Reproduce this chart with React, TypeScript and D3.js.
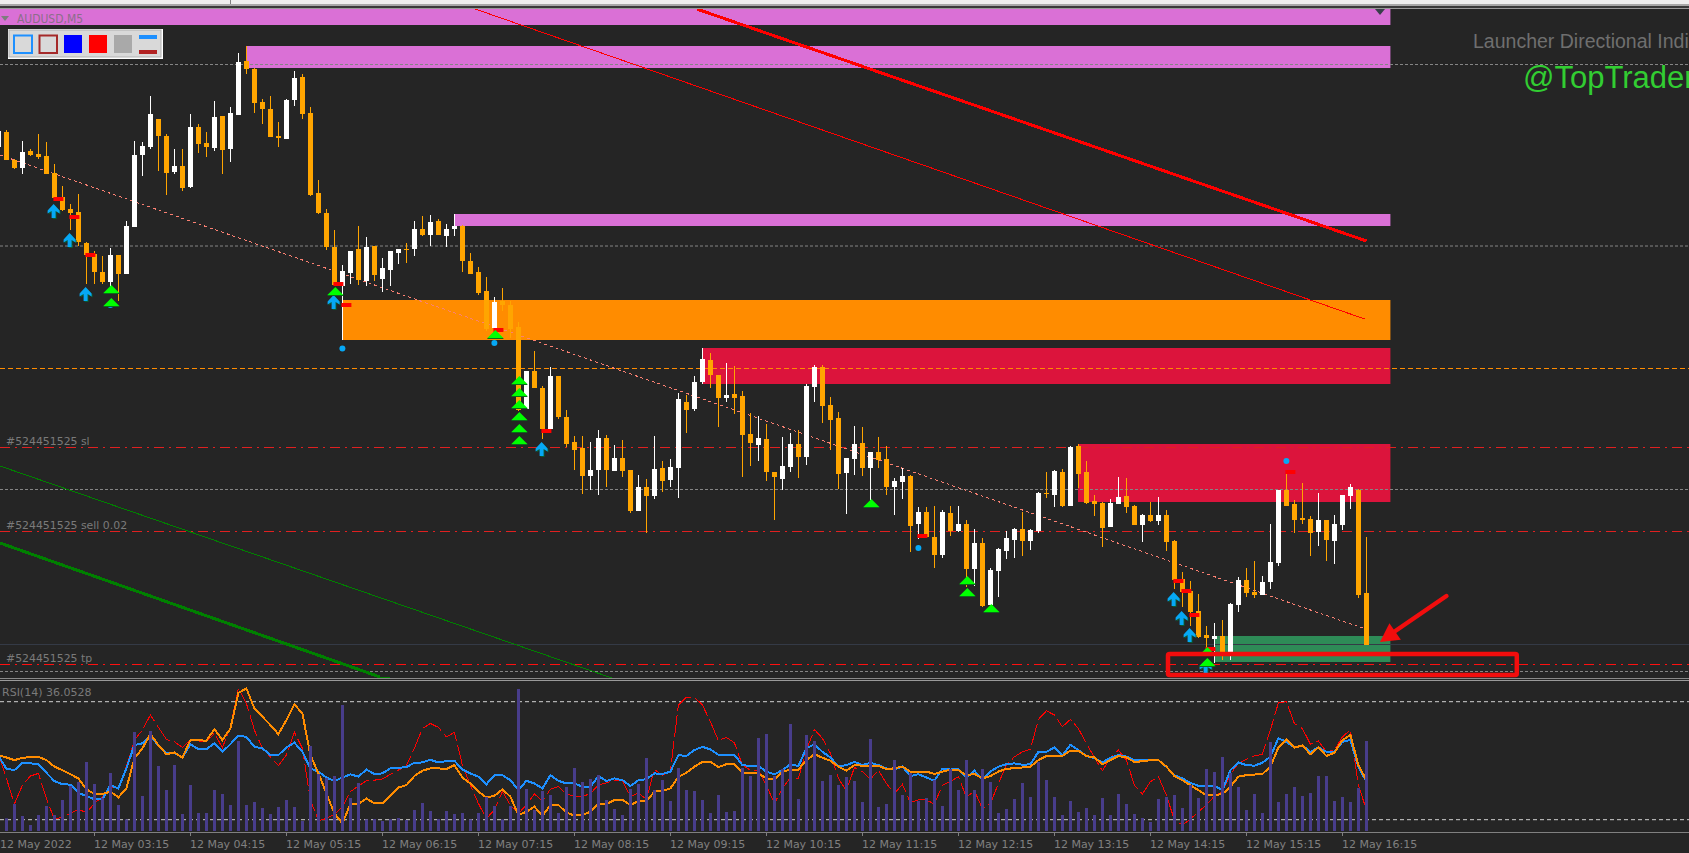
import * as d3 from "d3";

const W = 1689;
const H = 853;

// prices are points above 0.69000
const opens = [
  853,868,840,832,849,846,844,827,803,791,788,757,746,728,718,745,726,773,845,853,
  881,864,828,834,813,873,857,852,884,851,885,939,931,898,891,864,861,900,923,887,
  807,787,753,714,727,751,719,754,721,730,747,751,751,771,765,779,764,771,774,739,
  728,709,672,699,695,673,591,629,612,571,624,583,558,552,524,530,562,529,542,530,
  489,513,504,532,520,532,598,591,618,640,625,602,606,604,566,555,561,528,521,533,
  556,543,613,633,595,582,527,541,557,532,548,541,513,518,524,476,488,463,445,487,
  469,476,431,457,395,429,449,460,471,459,469,507,505,528,494,554,528,499,497,473,
  496,504,494,475,485,479,485,459,421,409,389,365,361,364,348,395,420,408,405,418,
  437,510,496,482,481,468,480,459,475,504,510,407,
];
const closes = [
  869,840,832,848,845,843,826,802,790,787,758,745,728,718,745,726,774,845,854,886,
  864,827,834,812,873,856,853,883,850,887,938,931,897,891,863,862,900,922,886,805,
  787,753,715,729,749,720,753,725,732,749,751,750,771,765,778,765,771,774,739,726,
  707,671,698,695,671,590,629,612,571,624,583,556,550,524,530,562,530,542,529,489,
  513,504,531,519,533,601,590,618,641,625,602,605,602,565,557,562,528,523,534,556,
  543,614,633,594,580,526,542,556,532,548,540,513,519,524,474,488,463,445,488,469,
  476,431,457,394,430,451,462,471,459,470,507,506,529,494,553,526,497,496,472,497,
  503,493,475,485,479,485,458,420,408,388,363,362,364,348,396,420,407,405,418,438,
  510,494,480,480,467,480,460,476,505,513,405,355,
];
const highs = [
  869,870,841,859,851,866,858,836,814,796,806,758,749,744,752,745,779,859,858,904,
  881,866,851,851,886,876,868,899,884,893,947,954,932,901,904,878,901,929,926,893,
  820,791,770,735,749,774,763,754,742,749,751,757,779,784,785,781,776,786,775,747,
  733,723,703,712,699,678,629,649,614,633,624,590,564,564,558,570,565,555,560,530,
  525,521,564,539,541,607,605,624,652,647,625,637,634,609,587,584,576,528,563,567,
  570,616,635,635,603,588,542,574,573,548,563,554,522,532,525,493,493,494,490,494,
  494,480,471,462,432,452,469,472,488,471,508,528,530,531,554,556,539,505,498,501,
  523,522,495,486,498,503,490,460,428,419,406,374,377,380,397,423,432,439,424,476,
  510,530,500,517,484,507,480,485,505,516,511,463,
];
const lows = [
  853,840,831,826,844,841,826,801,789,770,754,716,716,716,713,699,726,773,824,851,
  829,805,826,809,812,847,843,849,826,838,885,926,887,876,863,853,861,894,881,804,
  786,750,715,660,716,715,714,719,708,714,736,737,744,764,754,765,753,764,728,726,
  705,669,670,689,662,589,591,612,561,571,581,553,530,506,510,505,513,529,523,487,
  489,467,501,508,513,502,567,589,616,612,573,598,586,523,534,539,519,480,510,528,
  522,535,598,577,550,511,486,525,524,500,532,505,485,501,448,461,463,432,442,464,
  468,413,414,393,395,403,441,442,444,450,467,502,493,493,494,512,496,484,453,473,
  496,487,475,458,478,475,449,411,393,374,362,350,337,340,340,388,403,402,405,411,
  434,494,467,476,444,454,439,436,470,491,402,355,
];
const volumes = [
  38,38,81,45,18,48,75,48,93,135,147,207,141,99,174,78,35,297,105,300,
  195,123,198,51,138,54,54,123,111,78,270,78,87,69,51,72,93,72,30,255,
  171,159,165,378,99,144,35,36,30,35,39,33,63,84,60,36,60,51,54,35,
  54,102,75,35,75,426,126,63,120,108,54,132,189,147,156,168,93,66,48,126,
  141,219,123,153,90,189,123,120,93,54,108,57,60,189,165,279,291,165,186,321,
  96,288,270,150,168,138,162,150,87,276,72,81,213,108,174,90,99,153,75,186,
  123,213,123,186,147,54,66,96,144,102,207,153,102,48,90,57,69,48,99,48,
  111,81,51,39,27,96,102,108,69,138,99,186,177,222,174,132,63,111,54,267,
  87,111,132,105,114,165,165,90,102,87,129,270,
];
const rsiBlue = [
  51.6,47.3,46.8,49.3,49.1,48.8,45.9,43.1,42.0,41.9,39.1,38.0,36.9,36.9,41.7,40.6,47.4,55.3,55.9,58.4,
  55.1,52.5,52.7,51.1,55.6,53.9,53.9,55.9,53.0,55.6,58.5,58.1,54.7,54.2,51.9,51.9,54.5,56.1,53.0,47.4,
  46.3,44.3,43.1,44.3,45.4,44.6,47.0,45.5,45.7,47.4,47.6,47.8,49.3,49.4,50.3,49.4,49.9,50.0,47.0,45.7,
  44.6,42.0,45.1,45.1,43.4,40.0,43.2,42.3,40.6,45.1,43.2,42.3,42.3,41.2,41.2,44.8,43.1,44.0,43.4,41.4,
  43.4,43.7,45.7,45.5,46.3,51.9,51.6,53.6,54.7,53.8,52.0,52.0,52.0,48.5,48.2,48.2,46.3,45.4,46.8,48.8,
  48.2,54.2,55.6,53.0,51.1,48.0,48.5,49.6,48.5,49.3,48.5,47.4,47.0,48.0,44.8,45.4,44.3,43.2,47.3,47.0,
  47.2,44.2,46.6,43.7,46.3,48.0,48.8,49.1,48.6,48.8,53.0,53.0,54.5,51.7,55.4,53.6,51.6,50.9,49.4,51.0,
  51.9,51.4,50.2,50.4,50.2,50.2,47.9,45.1,44.0,42.5,41.5,41.5,41.5,40.0,46.8,49.4,48.5,48.3,49.3,51.4,
  57.6,56.4,54.5,55.2,53.0,54.5,53.0,53.0,56.4,57.0,47.9,42.9,
];
const rsiOrange = [
  51.9,51.1,50.2,51.0,51.2,51.3,50.2,48.0,46.8,45.4,44.0,40.3,38.7,38.7,39.5,37.6,40.6,50.8,54.2,59.0,
  55.3,52.2,52.8,51.0,57.0,56.9,56.8,60.7,57.0,60.9,73.0,74.5,67.7,64.9,62.1,59.0,63.8,69.1,66.0,51.9,
  45.7,38.9,32.1,28.8,35.3,35.3,37.2,35.5,35.5,38.3,40.9,41.7,44.8,46.6,47.4,47.4,47.2,48.5,44.3,42.3,
  39.5,37.5,38.1,40.3,37.8,31.6,32.7,34.4,31.3,35.0,35.0,32.4,31.4,31.6,32.7,35.3,35.3,36.7,36.7,35.0,
  36.3,36.3,39.5,39.8,40.6,44.6,45.9,48.0,49.6,49.6,47.8,48.8,48.8,45.9,45.7,45.7,44.0,43.7,46.3,47.0,
  47.0,50.2,52.2,51.0,50.0,48.0,46.6,48.5,48.3,48.2,48.2,47.2,47.4,48.0,46.3,46.3,46.3,45.5,46.3,47.0,
  46.8,45.1,45.5,44.0,44.8,46.3,47.3,47.4,47.7,48.0,50.2,51.6,51.7,51.6,53.4,53.4,51.6,51.1,48.8,50.2,
  51.6,51.1,49.6,49.8,50.2,50.2,48.0,44.8,43.4,41.7,40.0,38.3,38.3,38.7,41.2,44.6,45.1,45.3,45.5,48.0,
  54.5,57.2,54.4,55.2,52.2,54.5,51.6,52.7,57.0,58.7,48.5,43.4,
];
const rsiRed = [
  52.5,44.0,35.3,41.7,44.8,45.7,37.2,30.1,31.0,32.1,33.5,32.4,35.5,37.8,40.9,40.9,48.0,57.0,60.4,65.5,
  61.3,57.2,56.4,54.5,57.0,56.7,56.4,59.3,54.4,61.5,74.5,69.4,60.4,54.2,51.3,48.3,51.9,59.6,54.2,36.7,
  29.7,30.4,31.8,34.4,39.5,41.4,43.2,43.4,43.8,45.4,46.8,48.3,54.2,60.9,62.6,61.3,58.1,59.6,48.5,41.7,
  35.5,30.4,33.3,39.5,35.0,32.1,35.0,38.7,36.4,40.3,41.2,38.7,38.0,37.8,38.9,41.7,42.5,43.4,43.2,37.8,
  39.1,36.9,47.0,45.1,46.5,68.9,71.5,71.5,68.9,63.2,56.8,57.9,56.1,48.5,46.8,46.8,41.7,35.5,40.6,44.3,
  44.0,53.6,60.6,57.6,52.5,44.0,39.8,47.7,46.3,43.7,46.8,42.3,38.9,42.0,35.8,36.7,36.7,35.3,41.7,42.9,
  44.6,37.6,39.8,33.8,35.5,42.3,48.5,51.3,53.0,53.9,64.0,66.9,65.5,61.5,64.0,60.9,55.9,51.1,46.6,51.1,
  53.6,50.2,41.7,38.7,42.9,44.6,38.3,29.9,28.2,30.2,32.7,35.0,38.0,39.5,45.4,49.1,50.5,51.6,52.2,60.4,
  69.6,70.0,62.6,60.9,55.6,56.7,53.0,53.6,58.1,60.4,41.7,33.3,
];

const timeIdx = [0, 12, 24, 36, 48, 60, 72, 84, 96, 108, 120, 132, 144, 156, 168];
const timeLabels = [
  "12 May 2022", "12 May 03:15", "12 May 04:15", "12 May 05:15", "12 May 06:15",
  "12 May 07:15", "12 May 08:15", "12 May 09:15", "12 May 10:15", "12 May 11:15",
  "12 May 12:15", "12 May 13:15", "12 May 14:15", "12 May 15:15", "12 May 16:15",
];

// supply / demand boxes: start bar, top, bottom, colour
const zoneStart = [-1, 31, 57, 43, 88, 135, 152];
const zoneTop = [991, 954, 786, 700, 652, 556, 364];
const zoneBottom = [975, 932, 774, 660, 616, 498, 338];
const zoneFill = ["#DA70D6", "#DA70D6", "#DA70D6", "#FF8C00", "#DC143C", "#DC143C", "#2E8B57"];
const zoneEnd = 174;

const greyLevels = [935.5, 754, 510.5, 328.5];
const orangeLevel = 631.5;
const orderLevels = [552.5, 468.5];
const orderLabels = ["#524451525 sl", "#524451525 sell 0.02", "#524451525 tp"];
const tpLevel = 335.5;
const faintLevel = 355.5;

const arrowIdx = [7, 9, 11, 42, 68, 147, 148, 149, 151];
const arrowPts = [796, 767, 713, 705, 558, 408, 389, 372, 340];
const triIdx = [14, 14, 42, 62, 65, 65, 65, 65, 65, 65, 109, 121, 121, 124, 151, 151];
const triPts = [715, 702, 713, 670, 624, 612, 600, 588, 576, 564, 501, 424, 412, 396, 353, 342];
const dashIdx = [7, 9, 11, 42, 43, 62, 68, 115, 147, 148, 149, 151, 161];
const dashPts = [801, 783, 745, 716, 695, 670, 569, 464, 419, 409, 385, 351, 528];
const dotIdx = [14, 43, 62, 115, 161];
const dotPts = [695, 651.5, 657, 452, 539];

const x = d3.scaleLinear().domain([0, 171]).range([-1.6, 1366.4]);
const y = d3.scaleLinear().domain([1000, 0]).range([0, 1000]);
const yRsi = d3.scaleLinear().domain([30, 70]).range([819.7, 701.7]);
const yVol = d3.scaleLinear().domain([0, 426]).range([831, 689]);

const rsiLine = d3
  .line<number>()
  .x((_, i) => x(i))
  .y((d) => yRsi(d));

const BG = "#252525";
const UP = "#FFFFFF";
const DOWN = "#FFA500";
const MONO = "'DejaVu Sans', Tahoma, sans-serif";

function trend(i0: number, p0: number, i1: number, p1: number, stroke: string, sw: number, dash?: string) {
  return (
    <line
      x1={x(i0)}
      y1={y(p0)}
      x2={x(i1)}
      y2={y(p1)}
      stroke={stroke}
      strokeWidth={sw}
      strokeDasharray={dash}
      shapeRendering="crispEdges"
    />
  );
}

export default function App() {
  const tipX = x(172.7);
  const tipY = y(358);
  const tailX = x(181);
  const tailY = y(404);
  const ang = Math.atan2(tailY - tipY, tailX - tipX);
  const head = (len: number, off: number) =>
    `${tipX + Math.cos(ang + off) * len},${tipY + Math.sin(ang + off) * len}`;

  return (
    <div style={{ width: W, height: H, overflow: "hidden", position: "fixed", left: 0, top: 0 }}>
      <style>{"body{margin:0;background:#252525}"}</style>
      <svg width={W} height={H} viewBox={`0 0 ${W} ${H}`} style={{ display: "block" }}>
        <rect width={W} height={H} fill={BG} />

        {/* window strip */}
        <rect width={W} height={4} fill="#efefef" />
        <rect y={4} width={W} height={2} fill="#a8a8a8" />
        <rect y={6} width={W} height={2} fill="#3a3a3a" />
        <rect y={8} width={W} height={1} fill="#9a9a9a" />
        <rect x={230} width={1} height={4} fill="#808080" />

        <defs>
          <clipPath id="main">
            <rect x={0} y={9} width={W} height={669} />
          </clipPath>
        </defs>

        <g clipPath="url(#main)">
          {zoneStart.map((s, i) => (
            <rect
              key={i}
              x={Math.max(0, Math.floor(x(s)))}
              y={y(zoneTop[i])}
              width={x(zoneEnd) - Math.max(0, Math.floor(x(s)))}
              height={y(zoneBottom[i]) - y(zoneTop[i])}
              fill={zoneFill[i]}
            />
          ))}

          {greyLevels.map((p) => (
            <line key={p} x1={0} x2={W} y1={y(p)} y2={y(p)} stroke="#858585" strokeDasharray="3 2" />
          ))}
          <line x1={0} x2={W} y1={y(orangeLevel)} y2={y(orangeLevel)} stroke="#FF8C00" strokeDasharray="5 3" />
          {orderLevels.map((p) => (
            <line key={p} x1={0} x2={W} y1={y(p)} y2={y(p)} stroke="#e02020" strokeDasharray="10 5 2 5" />
          ))}
          <line x1={0} x2={W} y1={y(faintLevel)} y2={y(faintLevel)} stroke="#343a46" />
          <line x1={0} x2={W} y1={y(tpLevel)} y2={y(tpLevel)} stroke="#ff1010" strokeDasharray="10 5 2 5" />

          {trend(87.3, 991, 171, 759, "#ff0000", 3)}
          {trend(59.6, 991, 170.8, 681, "#ff0000", 1)}
          {trend(0.2, 845, 170.5, 372, "#FA8072", 1, "3 3")}
          {trend(0.2, 534, 76.7, 322, "#008000", 1)}
          {trend(0.2, 457, 47.7, 323, "#008000", 3)}
          {trend(47.7, 323, 49, 323, "#008000", 1)}

          {opens.map((o, i) => {
            const c = closes[i];
            const up = c >= o;
            const cx = Math.floor(x(i));
            const top = y(Math.max(o, c));
            const bot = y(Math.min(o, c));
            const col = up ? UP : DOWN;
            return (
              <g key={i} fill={col}>
                <rect x={cx} y={y(highs[i])} width={1} height={y(lows[i]) - y(highs[i])} />
                <rect x={cx - 2} y={top} width={5} height={Math.max(1, bot - top)} />
              </g>
            );
          })}

          {dotIdx.map((d, i) => (
            <circle key={i} cx={x(d)} cy={y(dotPts[i])} r={3} fill="#06a8f5" />
          ))}
          {dashIdx.map((d, i) => (
            <rect key={i} x={x(d) - 1} y={y(dashPts[i]) - 2} width={10} height={4} fill="#ff0000" />
          ))}
          {arrowIdx.map((d, i) => {
            const ax = x(d) - 0.8;
            const ay = y(arrowPts[i]);
            const p = `M${ax},${ay}L${ax + 6},${ay + 6.5}L${ax + 6},${ay + 9.5}L${ax + 2},${ay + 7}L${ax + 2},${ay + 14}L${ax - 2},${ay + 14}L${ax - 2},${ay + 7}L${ax - 6},${ay + 9.5}L${ax - 6},${ay + 6.5}Z`;
            return (
              <g key={i}>
                <path d={p} fill="#0a5a30" transform="translate(1,1)" />
                <path d={p} fill="#06a8f5" />
              </g>
            );
          })}
          {triIdx.map((d, i) => {
            const tx = x(d) + 1;
            const ty = y(triPts[i]);
            return (
              <g key={i}>
                <polygon points={`${tx},${ty} ${tx + 8},${ty + 8} ${tx - 8},${ty + 8}`} fill="#00ff00" />
                <line x1={tx - 8} x2={tx + 8} y1={ty + 8.5} y2={ty + 8.5} stroke="#0b6a1a" />
              </g>
            );
          })}
        </g>

        {/* annotation box and arrow */}
        <rect
          x={x(146.2)}
          y={y(346)}
          width={x(189.8) - x(146.2)}
          height={y(325) - y(346)}
          fill="none"
          stroke="#f20d0d"
          strokeWidth={4.5}
          rx={1.5}
        />
        <line x1={tailX} y1={tailY} x2={tipX + 8} y2={tipY - 6} stroke="#f20d0d" strokeWidth={4.5} strokeLinecap="round" />
        <polygon points={`${tipX},${tipY} ${head(21, 0.5)} ${head(21, -0.5)}`} fill="#f20d0d" />

        {/* chart labels */}
        <polygon points="1,16 9,16 5,21" fill="#7d7d7d" />
        <polygon points="1375,9 1385,9 1380,15" fill="#3a3f4a" />
        <text x={17} y={23} fontFamily={MONO} fontSize={11.5} fill="#8c6e8a" textLength={66} lengthAdjust="spacingAndGlyphs">
          AUDUSD,M5
        </text>
        {orderLabels.map((t, i) => (
          <text key={t} x={6} y={y([555, 471, 338.3][i])} fontFamily={MONO} fontSize={10.9} fill="#7a7a7a">
            {t}
          </text>
        ))}
        <text x={1473} y={48} fontFamily="'Liberation Sans', Arial, sans-serif" fontSize={19.5} fill="#6f6f6f">
          Launcher Directional Indicator
        </text>
        <text x={1523} y={88} fontFamily="'Liberation Sans', Arial, sans-serif" fontSize={31} fill="#32CD32">
          @TopTrader
        </text>

        {/* toolbar */}
        <rect x={8} y={29} width={155} height={30} fill="#ffffff" />
        <rect x={9} y={30} width={152} height={27} fill="#d9d9d9" stroke="#b0b0b0" />
        <rect x={14} y={35.5} width={18} height={17.5} fill="#d9d9d9" stroke="#1E90FF" strokeWidth={2} />
        <rect x={39.5} y={35.5} width={17.5} height={17.5} fill="#d9d9d9" stroke="#A52A2A" strokeWidth={2} />
        <rect x={64} y={35} width={18} height={18} fill="#0000ff" />
        <rect x={89} y={35} width={18} height={18} fill="#ff0000" />
        <rect x={114} y={35} width={18} height={18} fill="#a9a9a9" />
        <rect x={139} y={35} width={18} height={4} fill="#1E90FF" />
        <rect x={139} y={50} width={18} height={4} fill="#B22222" />

        {/* pane split */}
        <rect y={678} width={W} height={1} fill="#8a8a8a" />
        <rect y={680} width={W} height={1} fill="#9a9a9a" />

        {/* RSI pane */}
        <text x={2} y={696} fontFamily={MONO} fontSize={11} fill="#7a7a7a">
          RSI(14) 36.0528
        </text>
        {[70, 30].map((v) => (
          <line key={v} x1={0} x2={W} y1={yRsi(v)} y2={yRsi(v)} stroke="#d0d0d0" strokeDasharray="4 3" />
        ))}
        <path d={rsiLine(rsiRed) ?? ""} fill="none" stroke="#ff0000" strokeWidth={1} strokeDasharray="22 4" shapeRendering="crispEdges" />
        <path d={rsiLine(rsiBlue) ?? ""} fill="none" stroke="#1E90FF" strokeWidth={2} shapeRendering="crispEdges" />
        <path d={rsiLine(rsiOrange) ?? ""} fill="none" stroke="#FF8C00" strokeWidth={2} shapeRendering="crispEdges" />
        {volumes.map((v, i) => (
          <rect key={i} x={Math.floor(x(i)) - 1} y={yVol(v)} width={3} height={yVol(0) - yVol(v)} fill="#483D8B" />
        ))}

        {/* time axis */}
        <rect y={832} width={W} height={1} fill="#808080" />
        {timeIdx.map((d, i) => (
          <g key={d}>
            {i > 0 && <rect x={Math.floor(x(d))} y={833} width={1} height={3} fill="#808080" />}
            <text x={i === 0 ? 0 : x(d) - 0.5} y={848} fontFamily={MONO} fontSize={11} fill="#808080">
              {timeLabels[i]}
            </text>
          </g>
        ))}
      </svg>
    </div>
  );
}
